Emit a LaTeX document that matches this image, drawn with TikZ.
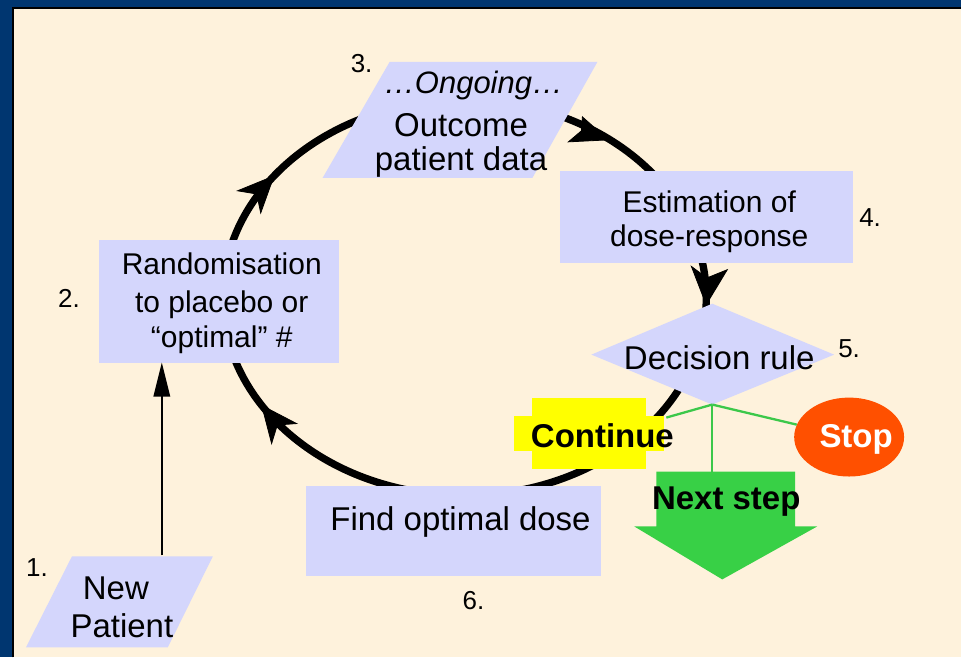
\documentclass[tikz,border=0pt]{standalone}
\usepackage{fontspec}
\setmainfont{Liberation Sans}
\usetikzlibrary{shapes.geometric}
\definecolor{navy}{HTML}{003670}
\definecolor{cream}{HTML}{FEF2DC}
\definecolor{lav}{HTML}{D4D6FC}
\definecolor{gline}{HTML}{3CC84A}
\definecolor{garrow}{HTML}{38D046}
\definecolor{stopred}{HTML}{FF5000}
\definecolor{yel}{HTML}{FFFF00}
\begin{document}
\begin{tikzpicture}[x=1pt,y=-1pt,
  box/.style={fill=lav, draw=none, inner sep=0pt, outer sep=0pt},
  txt/.style={inner sep=0pt, anchor=base, font=\fontsize{30}{36}\selectfont},
  bigtxt/.style={inner sep=0pt, anchor=base, font=\fontsize{33}{38}\selectfont},
  boldtxt/.style={inner sep=0pt, anchor=base, font=\fontsize{33}{38}\selectfont\bfseries},
  numlbl/.style={inner sep=0pt, anchor=base, font=\fontsize{26}{30}\selectfont},
  cyc/.style={line width=7.3pt},
  headfill/.style={fill=black, draw=black, line width=0.8pt, line join=miter},
  branch/.style={draw=gline, line width=2.3pt}]
% background
\fill[navy] (0,0) rectangle (962,658);
\fill[cream] (13.3,8) rectangle (962,658);
\draw[black, line width=2pt] (13.3,658) -- (13.3,8) -- (962,8);
\useasboundingbox (0,0) rectangle (962,658);
% cycle
\coordinate (c) at (465,298);
\draw[cyc] (c) ellipse [x radius=242, y radius=198];
% arrowheads on the cycle
\fill[headfill] (274.3,176.1) -- (261.0,213.2) -- (257.0,194.2) -- (237.8,191.0) -- cycle;
\fill[headfill] (609,140) -- (569,142) -- (582,131) -- (583,117) -- cycle;
\fill[headfill] (706.9,305) -- (692.1,266.7) -- (707.7,278.2) -- (728,270) -- cycle;
\fill[headfill] (262.0,405.8) -- (296.9,424.0) -- (277.6,425.4) -- (271.9,444.0) -- cycle;
% shapes
\fill[lav] (390,62) -- (598,62) -- (533,178) -- (323,178) -- cycle;
\fill[lav] (72,557) -- (213,557) -- (168,648) -- (26,648) -- cycle;
\coordinate (p1top) at (162,556);
\node[box, minimum width=240pt, minimum height=123pt] (n2) at (219,301.5) {};
\node[box, minimum width=293pt, minimum height=92pt] (n4) at (707.5,217) {};
\node[box, minimum width=296pt, minimum height=91pt] (n6) at (454,531.5) {};
\fill[lav] (592,355) -- (713,304) -- (835,355) -- (713,405) -- cycle;
\coordinate (d5s) at (713,405);
% new patient arrow
\coordinate (n2in) at (p1top |- n2.south);
\draw[line width=2.6pt] (p1top) -- ([yshift=-25pt]n2in);
\fill[black] (n2in) -- ([shift={(8.5,34)}]n2in) -- ([shift={(-8.5,34)}]n2in) -- cycle;
% decision branches
\node[ellipse, fill=stopred, minimum width=110pt, minimum height=79pt, inner sep=0pt] (stop) at (850,437.5) {};
\coordinate (contR) at (667,418);
\coordinate (nsTop) at (713,473);
\draw[branch] (d5s) -- (contR);
\draw[branch] (d5s) -- (stop);
\draw[branch] (d5s) -- (nsTop);
\fill[yel] (533,398) rectangle (647,469);
\fill[yel] (515,416) rectangle (665,451);
\fill[garrow] (657,472) -- (796,472) -- (796,527) -- (818,527) -- (723,580) -- (635,527) -- (657,527) -- cycle;
% texts
\node[txt, font=\fontsize{31}{36}\selectfont\itshape] (t3a) at (474,94) {…Ongoing…};
\node[bigtxt] (t3b) at (461.5,137) {Outcome};
\node[bigtxt] (t3c) at (461.5,170.5) {patient data};
\node[txt] (t2a) at (222,275) {Randomisation};
\node[txt] (t2b) at (222,313) {to placebo or};
\node[txt] (t2c) at (222,348) {“optimal” \#};
\node[txt] (t4a) at (710,212.5) {Estimation of};
\node[txt] (t4b) at (710,247) {dose-response};
\node[bigtxt] (t5) at (720,370) {Decision rule};
\node[bigtxt] (t6) at (461,531) {Find optimal dose};
\node[bigtxt] (t1a) at (116,600) {New};
\node[bigtxt] (t1b) at (122,638) {Patient};
\node[boldtxt] (cont) at (603,448) {Continue};
\node[boldtxt] (nstep) at (727,510) {Next step};
\node[boldtxt, text=white] (stopt) at (857,448) {Stop};
\node[numlbl] (l1) at (37,577) {1.};
\node[numlbl] (l2) at (69,308) {2.};
\node[numlbl] (l3) at (362,73) {3.};
\node[numlbl] (l4) at (871,227) {4.};
\node[numlbl] (l5) at (850,358) {5.};
\node[numlbl] (l6) at (474,610) {6.};
\end{tikzpicture}
\end{document}
